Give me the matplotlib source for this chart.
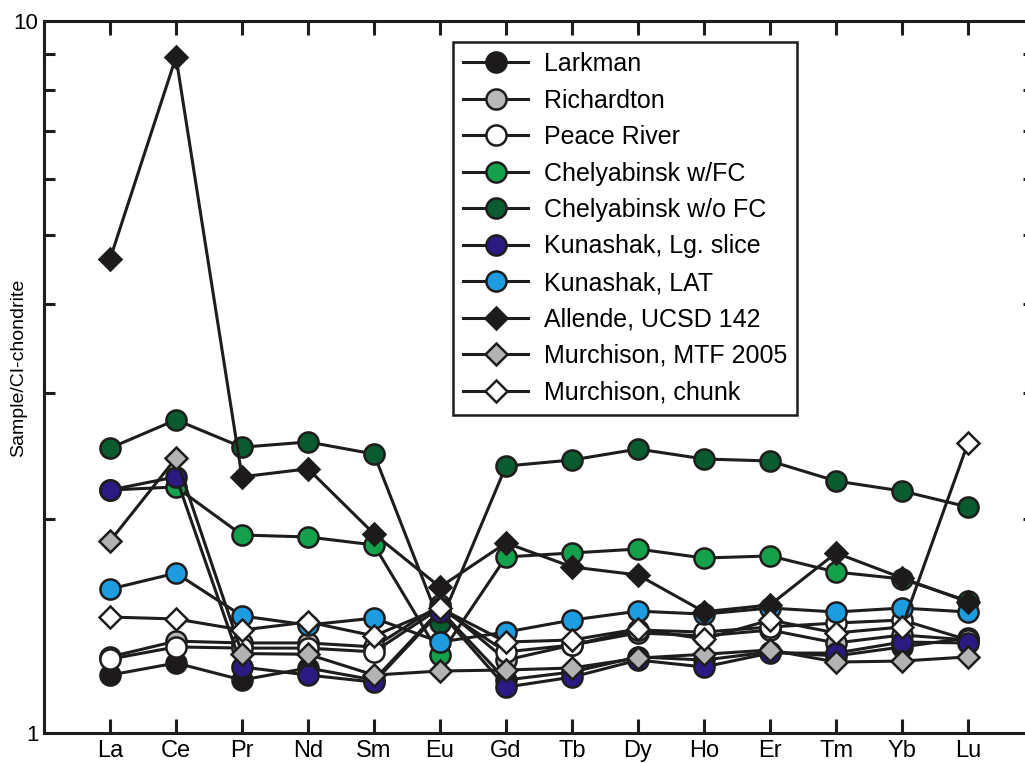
import matplotlib
matplotlib.use("Agg")
import matplotlib.pyplot as plt
from matplotlib.ticker import LogLocator, NullFormatter, FixedLocator

plt.rcParams['font.family'] = ['Liberation Sans', 'DejaVu Sans']

# REE abundances normalised to CI chondrite
elements = ["La", "Ce", "Pr", "Nd", "Sm", "Eu", "Gd", "Tb", "Dy", "Ho", "Er", "Tm", "Yb", "Lu"]

larkman = [1.206, 1.254, 1.187, 1.234, 1.187, 1.489, 1.187, 1.218, 1.279, 1.266, 1.300, 1.283, 1.321, 1.360]
richardton = [1.279, 1.346, 1.338, 1.338, 1.321, 1.513, 1.266, 1.329, 1.382, 1.369, 1.395, 1.338, 1.373, 1.351]
peace_river = [1.270, 1.321, 1.316, 1.316, 1.300, 1.498, 1.300, 1.329, 1.395, 1.386, 1.409, 1.427, 1.441, 1.351]
chely_fc = [2.194, 2.216, 1.897, 1.885, 1.837, 1.287, 1.767, 1.790, 1.813, 1.761, 1.773, 1.683, 1.646, 1.532]
chely_nofc = [2.513, 2.753, 2.520, 2.563, 2.465, 1.427, 2.371, 2.418, 2.505, 2.426, 2.410, 2.259, 2.187, 2.077]
kun_slice = [2.194, 2.290, 1.238, 1.206, 1.179, 1.479, 1.160, 1.198, 1.266, 1.238, 1.295, 1.295, 1.342, 1.338]
kun_lat = [1.593, 1.677, 1.460, 1.418, 1.450, 1.342, 1.386, 1.441, 1.483, 1.469, 1.498, 1.479, 1.498, 1.479]
allende = [4.63, 8.90, 2.29, 2.35, 1.904, 1.603, 1.849, 1.711, 1.667, 1.480, 1.513, 1.790, 1.651, 1.528]
murch_mtf = [1.860, 2.433, 1.293, 1.290, 1.206, 1.222, 1.226, 1.234, 1.274, 1.290, 1.308, 1.258, 1.262, 1.279]
murch_chunk = [1.455, 1.446, 1.395, 1.432, 1.369, 1.498, 1.342, 1.351, 1.400, 1.355, 1.441, 1.382, 1.409, 2.555]

series = [
    ("Larkman", larkman, "o", "#1c1a1a"),
    ("Richardton", richardton, "o", "#b9b9b9"),
    ("Peace River", peace_river, "o", "#ffffff"),
    ("Chelyabinsk w/FC", chely_fc, "o", "#15a04c"),
    ("Chelyabinsk w/o FC", chely_nofc, "o", "#0b5b31"),
    ("Kunashak, Lg. slice", kun_slice, "o", "#2a1a82"),
    ("Kunashak, LAT", kun_lat, "o", "#1e9ce0"),
    ("Allende, UCSD 142", allende, "D", "#1c1a1a"),
    ("Murchison, MTF 2005", murch_mtf, "D", "#b3b3b3"),
    ("Murchison, chunk", murch_chunk, "D", "#ffffff"),
]

ink = "#1f1c1c"

fig = plt.figure(figsize=(10.25, 7.63), dpi=100)
ax = fig.add_axes([44 / 1025, 30 / 763, 990 / 1025, 712 / 763])

x = list(range(len(elements)))
for name, vals, mk, col in series:
    ax.plot(x, vals, color=ink, lw=2.2, marker=mk,
            ms=14.5 if mk == "o" else 11.5,
            mfc=col, mec=ink, mew=1.8, label=name)

ax.set_yscale("log")
ax.set_ylim(1, 10)
ax.set_xlim(-1, 14)

ax.yaxis.set_major_locator(FixedLocator([1, 10]))
ax.yaxis.set_major_formatter(matplotlib.ticker.FixedFormatter(["1", "10"]))
ax.yaxis.set_minor_locator(LogLocator(base=10, subs=range(2, 10)))
ax.yaxis.set_minor_formatter(NullFormatter())

ax.set_xticks(x)
ax.set_xticklabels(elements)

ax.tick_params(axis="x", which="major", direction="in", length=10, width=2.2,
               color=ink, top=True, labelsize=17, pad=5)
ax.tick_params(axis="y", which="major", direction="in", length=0, labelsize=16, pad=4)
ax.tick_params(axis="y", which="minor", direction="in", length=8, width=2.2,
               color=ink, right=True)

for sp in ax.spines.values():
    sp.set_linewidth(2.2)
    sp.set_color(ink)

ax.set_ylabel("Sample/CI-chondrite", fontsize=14)
ax.yaxis.set_label_coords(-0.017, 0.513)

leg = ax.legend(loc="upper left", bbox_to_anchor=((453 - 44) / 990, (733 - 42) / 712),
                borderaxespad=0, fontsize=18, frameon=True, fancybox=False,
                handlelength=2.6, handletextpad=0.64, labelspacing=0.5,
                borderpad=0.4, framealpha=1)
leg.get_frame().set_edgecolor(ink)
leg.get_frame().set_linewidth(1.8)

fig.savefig("out.png", dpi=100)
